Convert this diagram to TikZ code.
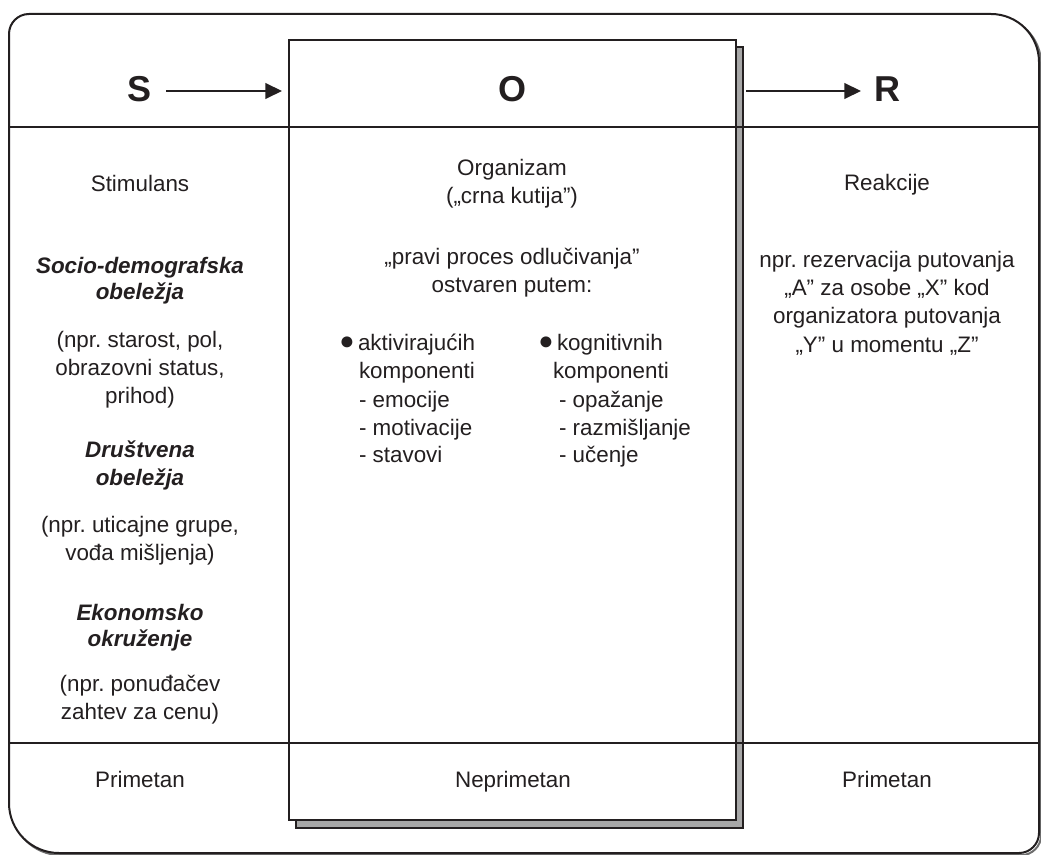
\documentclass[tikz,border=0pt]{standalone}
\usepackage{fontspec}
\setmainfont{Liberation Sans}
\usetikzlibrary{arrows.meta}
\definecolor{ink}{HTML}{231F20}
\definecolor{shade}{HTML}{A7A7A7}
\definecolor{rim}{HTML}{6E6E6E}
\frenchspacing
\newcommand\TL[4]{\node[txt] (#1) at (#2,#3) {#4};}
\newcommand\TW[4]{\node[txtw] (#1) at (#2,#3) {#4};}
\begin{document}
\begin{tikzpicture}[x=0.75pt,y=-0.75pt,
  txt/.style={anchor=base,inner sep=0pt,outer sep=0pt,text=ink,font=\fontsize{16.8}{20}\selectfont},
  txtw/.style={txt,anchor=base west},
  bul/.style={inner sep=0pt,outer sep=0pt,text=ink,anchor=center,font=\fontsize{19}{22}\selectfont},
  head/.style={anchor=base,inner sep=0pt,outer sep=0pt,text=ink,font=\fontsize{27}{32}\selectfont\bfseries},
  bi/.style={font=\fontsize{16.8}{20}\selectfont\bfseries\itshape},
  frame/.style={draw=ink,line width=1.5pt},
  arr/.style={draw=ink,line width=1.25pt,-{Triangle[length=12.5pt,width=11.8pt]}}]
\useasboundingbox (0,0) rectangle (1041,855);
% outer shadow
\begin{scope}[xshift=1.6pt,yshift=-1.6pt]
\draw[rim,line width=1.5pt] (9,34) arc[start angle=180,end angle=270,radius=20] -- (991,14)
  arc[start angle=270,end angle=360,radius=48] -- (1039,833)
  arc[start angle=0,end angle=90,radius=20] -- (59,853)
  arc[start angle=90,end angle=180,radius=50] -- cycle;
\end{scope}
% outer frame
\draw[frame,fill=white] (9,34) arc[start angle=180,end angle=270,radius=20] -- (991,14)
  arc[start angle=270,end angle=360,radius=48] -- (1039,833)
  arc[start angle=0,end angle=90,radius=20] -- (59,853)
  arc[start angle=90,end angle=180,radius=50] -- cycle;
% O box with shadow
\node[frame,fill=shade,inner sep=0pt,outer sep=0pt,minimum width=335.25pt,minimum height=585.75pt] (oshadow) at (519.5,437.5) {};
\node[frame,fill=white,inner sep=0pt,outer sep=0pt,minimum width=335.25pt,minimum height=585pt] (obox) at (512.5,430) {};
% header and footer lines
\coordinate (hl) at (9,127);
\coordinate (hr) at (1039,127);
\coordinate (fl) at (9,743);
\coordinate (fr) at (1039,743);
\draw[frame] (hl) -- (hr);
\draw[frame] (fl) -- (fr);
% titles
\node[head] (S) at (140,102) {S};
\node[head] (O) at (512,102) {O};
\node[head] (R) at (887,102) {R};
\coordinate (ay) at (0,91);
\draw[arr,shorten <=10.5pt,shorten >=5.25pt] (S.east |- ay) -- (obox.west |- ay);
\draw[arr,shorten <=7.5pt,shorten >=9.75pt] (obox.east |- ay) -- (R.west |- ay);
% left column
\TL{l1}{140}{192}{Stimulans}
\node[txt,bi] (l2) at (140,274) {Socio-demografska};
\node[txt,bi] (l3) at (140,300) {obeležja};
\TL{l4}{140}{347}{(npr. starost, pol,}
\TL{l5}{140}{375}{obrazovni status,}
\TL{l6}{140}{403}{prihod)}
\node[txt,bi] (l7) at (140,457) {Društvena};
\node[txt,bi] (l8) at (140,485) {obeležja};
\TL{l9}{140}{532}{(npr. uticajne grupe,}
\TL{l10}{140}{560}{vođa mišljenja)}
\node[txt,bi] (l11) at (140,620) {Ekonomsko};
\node[txt,bi] (l12) at (140,646) {okruženje};
\TL{l13}{140}{691}{(npr. ponuđačev}
\TL{l14}{140}{719}{zahtev za cenu)}
\TL{l15}{140}{787}{Primetan}
% middle column
\TL{m1}{512}{176}{Organizam}
\TL{m2}{512}{204}{(„crna kutija”)}
\TL{m3}{512}{265}{„pravi proces odlučivanja”}
\TL{m4}{512}{293}{ostvaren putem:}
\node[bul] (b1) at (347,343) {●};
\TW{a1}{358}{350}{aktivirajućih}
\TW{a2}{359}{378}{komponenti}
\TW{a3}{359}{407}{- emocije}
\TW{a4}{359}{435}{- motivacije}
\TW{a5}{359}{462}{- stavovi}
\node[bul] (b2) at (546,343) {●};
\TW{k1}{557}{350}{kognitivnih}
\TW{k2}{553}{378}{komponenti}
\TW{k3}{559}{407}{- opažanje}
\TW{k4}{559}{435}{- razmišljanje}
\TW{k5}{559}{462}{- učenje}
\TL{m5}{513}{787}{Neprimetan}
% right column
\TL{r1}{887}{191}{Reakcije}
\TL{r2}{887}{268}{npr. rezervacija putovanja}
\TL{r3}{887}{296}{„A” za osobe „X” kod}
\TL{r4}{887}{324}{organizatora putovanja}
\TL{r5}{887}{352}{„Y” u momentu „Z”}
\TL{r6}{887}{787}{Primetan}
\end{tikzpicture}
\end{document}
